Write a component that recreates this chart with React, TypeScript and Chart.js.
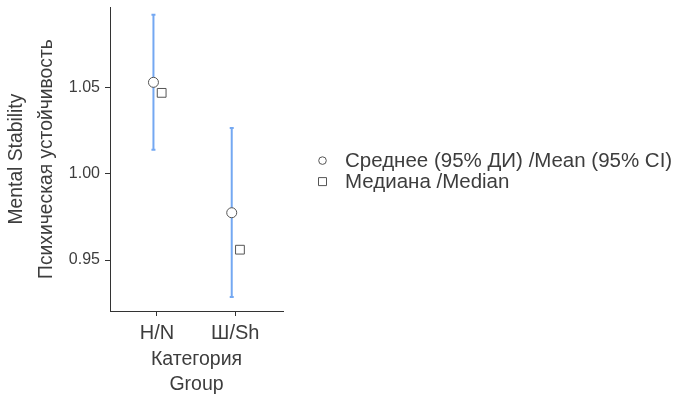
import React, { useEffect, useRef } from "react";
import { Chart, registerables } from "chart.js";

Chart.register(...registerables);

const categories = ["H/N", "Ш/Sh"];
const catPositions = [1, 2];
const means = [1.0529, 0.9774];
const ciLower = [1.0138, 0.9286];
const ciUpper = [1.092, 1.0264];
const medians = [1.0468, 0.956];
const yTickValues = [0.95, 1.0, 1.05];
const legendLabels = ["Среднее (95% ДИ) /Mean (95% CI)", "Медиана /Median"];
const yTitle = ["Mental Stability", "Психическая устойчивость"];
const xTitle = ["Категория", "Group"];

const FONT = "'Liberation Sans', Arial, Helvetica, sans-serif";
const BLUE = "#74a8f2";
const TEXT = "#3d3d3d";
const MEAN_DX = -0.045;
const MEDIAN_DX = 0.06;

const legendPlugin = {
  id: "customLegend",
  afterDraw(chart: any) {
    const { ctx, chartArea } = chart;
    const x0 = chartArea.right + 39.5;
    const yMid = (chartArea.top + chartArea.bottom) / 2;
    const markerRows = [yMid + 1.5, yMid + 22.5];
    const textRows = [yMid + 2.5, yMid + 23.5];
    ctx.save();
    ctx.strokeStyle = "#555555";
    ctx.lineWidth = 1;
    ctx.fillStyle = "#ffffff";
    ctx.beginPath();
    ctx.arc(x0, markerRows[0], 3.8, 0, Math.PI * 2);
    ctx.fill();
    ctx.stroke();
    ctx.beginPath();
    ctx.rect(x0 - 4, markerRows[1] - 4, 8, 8);
    ctx.fill();
    ctx.stroke();
    ctx.font = `20.5px ${FONT}`;
    ctx.textBaseline = "middle";
    ctx.textAlign = "left";
    ctx.fillStyle = TEXT;
    ctx.fillText(legendLabels[0], x0 + 22.5, textRows[0]);
    ctx.fillText(legendLabels[1], x0 + 22.5, textRows[1]);
    ctx.restore();
  },
};

export default function App() {
  const ref = useRef<HTMLCanvasElement | null>(null);

  useEffect(() => {
    if (!ref.current) return;
    const errorDatasets = categories.map((c, i) => ({
      type: "line" as const,
      label: "ci-" + c,
      data: [
        { x: catPositions[i] + MEAN_DX, y: ciLower[i] },
        { x: catPositions[i] + MEAN_DX, y: ciUpper[i] },
      ],
      borderColor: BLUE,
      borderWidth: 2,
      pointStyle: "line" as const,
      pointRadius: 2,
      pointBorderColor: BLUE,
      pointBorderWidth: 2,
      showLine: true,
      order: 3,
    }));
    const chart = new Chart(ref.current, {
      type: "scatter",
      data: {
        datasets: [
          ...errorDatasets,
          {
            label: legendLabels[0],
            data: means.map((m, i) => ({ x: catPositions[i] + MEAN_DX, y: m })),
            pointStyle: "circle",
            pointRadius: 5,
            pointBackgroundColor: "#ffffff",
            pointBorderColor: "#555555",
            pointBorderWidth: 1,
            order: 2,
          },
          {
            label: legendLabels[1],
            data: medians.map((m, i) => ({ x: catPositions[i] + MEDIAN_DX, y: m })),
            pointStyle: "rect",
            pointRadius: 6.2,
            pointBackgroundColor: "#ffffff",
            pointBorderColor: "#555555",
            pointBorderWidth: 1,
            order: 1,
          },
        ] as any,
      },
      options: {
        animation: false,
        responsive: true,
        maintainAspectRatio: false,
        layout: { padding: { top: 5, right: 403, left: 0, bottom: 0 } },
        plugins: {
          legend: { display: false },
          tooltip: { enabled: false },
        },
        scales: {
          x: {
            type: "linear",
            min: 0.4,
            max: 2.61,
            afterBuildTicks: (scale: any) => {
              scale.ticks = catPositions.map((v) => ({ value: v }));
            },
            afterFit: (scale: any) => {
              scale.height = 86;
              scale.paddingLeft = 0;
              scale.paddingRight = 0;
            },
            ticks: {
              callback: (v: any) => {
                const idx = catPositions.indexOf(Number(v));
                return idx >= 0 ? categories[idx] : "";
              },
              font: { family: FONT, size: 20 },
              color: TEXT,
              padding: 5,
              maxRotation: 0,
            },
            grid: {
              display: true,
              drawOnChartArea: false,
              drawTicks: true,
              tickLength: 5,
              color: "#333333",
            },
            border: { display: true, color: "#333333", width: 1 },
            title: {
              display: true,
              text: xTitle,
              font: { family: FONT, size: 19.5, lineHeight: "25px" } as any,
              color: TEXT,
              padding: { top: 0, bottom: 0 },
            },
          },
          y: {
            type: "linear",
            min: 0.9205,
            max: 1.0964,
            afterBuildTicks: (scale: any) => {
              scale.ticks = yTickValues.map((v) => ({ value: v }));
            },
            afterFit: (scale: any) => {
              scale.width = 110;
              scale.paddingTop = 0;
              scale.paddingBottom = 0;
            },
            ticks: {
              callback: (v: any) => Number(v).toFixed(2),
              font: { family: FONT, size: 16 },
              color: TEXT,
              padding: 5,
            },
            grid: {
              display: true,
              drawOnChartArea: false,
              drawTicks: true,
              tickLength: 5,
              color: "#333333",
            },
            border: { display: true, color: "#333333", width: 1 },
            title: {
              display: true,
              text: yTitle,
              font: { family: FONT, size: 19.3, lineHeight: "30px" } as any,
              color: TEXT,
              padding: { top: 2, bottom: 0 },
            },
          },
        },
      },
      plugins: [legendPlugin],
    });
    return () => chart.destroy();
  }, []);

  return (
    <div style={{ position: "fixed", left: 0, top: 0, width: 686, height: 397, background: "#ffffff" }}>
      <canvas ref={ref} />
    </div>
  );
}
